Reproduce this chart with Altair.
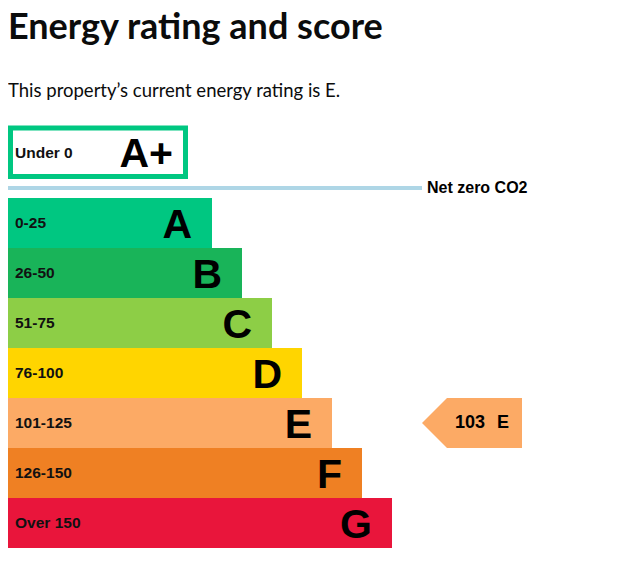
import altair as alt
import pandas as pd

# ---- data ----
bands = ["A", "B", "C", "D", "E", "F", "G"]
score_ranges = ["0-25", "26-50", "51-75", "76-100", "101-125", "126-150", "Over 150"]
band_colors = ["#00c781", "#19b459", "#8dce46", "#ffd500", "#fcaa65", "#ef8023", "#e9153b"]
top_band = "A+"
top_range = "Under 0"
current_score = 103
current_band = "E"
title_text = "Energy rating and score"
subtitle_text = "This property\u2019s current energy rating is E."
net_zero_label = "Net zero CO2"

# ---- layout (pixels in plot coordinates) ----
W, H = 600, 545
BAR_TOP, BAR_H = 190, 50
BAR_X0, BAR_END0, BAR_STEP = -1, 204, 30
LETTER_GAP = 20
LABEL_X = 7

xs = alt.Scale(domain=[0, W], nice=False, zero=False)
ys = alt.Scale(domain=[0, H], nice=False, zero=False, reverse=True)
color_scale = alt.Scale(domain=bands, range=band_colors)

bars_df = pd.DataFrame({"band": bands, "range": score_ranges})
bars_df["i"] = range(len(bands))
bars_df["top"] = BAR_TOP + BAR_H * bars_df["i"]
bars_df["bottom"] = bars_df["top"] + BAR_H
bars_df["mid"] = bars_df["top"] + BAR_H / 2
bars_df["x0"] = BAR_X0
bars_df["x1"] = BAR_END0 + BAR_STEP * bars_df["i"]
bars_df["letter_x"] = bars_df["x1"] - LETTER_GAP
bars_df["letter_y"] = bars_df["mid"] + 15
bars_df["label_x"] = LABEL_X

bars = alt.Chart(bars_df).mark_rect().encode(
    x=alt.X("x0:Q", scale=xs, axis=None),
    x2="x1:Q",
    y=alt.Y("top:Q", scale=ys, axis=None),
    y2="bottom:Q",
    color=alt.Color("band:N", scale=color_scale, legend=None),
)

range_labels = alt.Chart(bars_df).mark_text(
    align="left", baseline="middle", font="Liberation Sans", fontWeight="bold",
    fontSize=15.5, color="#111111"
).encode(
    x=alt.X("label_x:Q", scale=xs, axis=None),
    y=alt.Y("mid:Q", scale=ys, axis=None),
    text="range:N",
)

letters = alt.Chart(bars_df).mark_text(
    align="right", baseline="alphabetic", font="Liberation Sans", fontWeight="bold",
    fontSize=41, color="#000000"
).encode(
    x=alt.X("letter_x:Q", scale=xs, axis=None),
    y=alt.Y("letter_y:Q", scale=ys, axis=None),
    text="band:N",
)

# ---- A+ box ----
top_df = pd.DataFrame({"band": [top_band], "range": [top_range],
                       "x0": [2.5], "x1": [177.5], "y0": [120], "y1": [168.5],
                       "lx": [LABEL_X], "ly": [144.5], "bx": [165], "by": [159]})
top_box = alt.Chart(top_df).mark_rect(fill="white", stroke="#00c781", strokeWidth=5).encode(
    x=alt.X("x0:Q", scale=xs, axis=None), x2="x1:Q",
    y=alt.Y("y0:Q", scale=ys, axis=None), y2="y1:Q",
)
top_label = alt.Chart(top_df).mark_text(
    align="left", baseline="middle", font="Liberation Sans", fontWeight="bold",
    fontSize=15.5, color="#111111"
).encode(x=alt.X("lx:Q", scale=xs, axis=None), y=alt.Y("ly:Q", scale=ys, axis=None), text="range:N")
top_letter = alt.Chart(top_df).mark_text(
    align="right", baseline="alphabetic", font="Liberation Sans", fontWeight="bold",
    fontSize=41, color="#000000"
).encode(x=alt.X("bx:Q", scale=xs, axis=None), y=alt.Y("by:Q", scale=ys, axis=None), text="band:N")

# ---- net zero line ----
nz_df = pd.DataFrame({"x0": [-1], "x1": [414], "y": [180], "tx": [419], "label": [net_zero_label]})
nz_line = alt.Chart(nz_df).mark_rule(color="#aed6e6", strokeWidth=4).encode(
    x=alt.X("x0:Q", scale=xs, axis=None), x2="x1:Q", y=alt.Y("y:Q", scale=ys, axis=None)
)
nz_text = alt.Chart(nz_df).mark_text(
    align="left", baseline="middle", font="Liberation Sans", fontWeight="bold",
    fontSize=16, color="#000000"
).encode(x=alt.X("tx:Q", scale=xs, axis=None), y=alt.Y("y:Q", scale=ys, axis=None), text="label:N")

# ---- current rating arrow ----
ci = bands.index(current_band)
a_top = BAR_TOP + BAR_H * ci
a_mid = a_top + BAR_H / 2
a_bot = a_top + BAR_H
arrow_df = pd.DataFrame({
    "x": [414, 439, 514],
    "y": [a_mid, a_top, a_top],
    "y2": [a_mid, a_bot, a_bot],
    "band": [current_band] * 3,
})
arrow = alt.Chart(arrow_df).mark_area(orient="vertical", opacity=1).encode(
    x=alt.X("x:Q", scale=xs, axis=None),
    y=alt.Y("y:Q", scale=ys, axis=None),
    y2="y2:Q",
    color=alt.Color("band:N", scale=color_scale, legend=None),
)
arrow_txt_df = pd.DataFrame({"x": [447, 489], "y": [a_mid, a_mid],
                             "label": [str(current_score), current_band]})
arrow_text = alt.Chart(arrow_txt_df).mark_text(
    align="left", baseline="middle", font="Liberation Sans", fontWeight="bold",
    fontSize=18, color="#000000"
).encode(x=alt.X("x:Q", scale=xs, axis=None), y=alt.Y("y:Q", scale=ys, axis=None), text="label:N")

# ---- headings ----
head_df = pd.DataFrame({"x": [0, 0], "y": [31, 89], "label": [title_text, subtitle_text],
                        "kind": ["title", "subtitle"]})
title_mark = alt.Chart(head_df).transform_filter(alt.datum.kind == "title").mark_text(
    align="left", baseline="alphabetic", font="Lato", fontWeight="bold",
    fontSize=36, color="#0b0c0c"
).encode(x=alt.X("x:Q", scale=xs, axis=None), y=alt.Y("y:Q", scale=ys, axis=None), text="label:N")
subtitle_mark = alt.Chart(head_df).transform_filter(alt.datum.kind == "subtitle").mark_text(
    align="left", baseline="alphabetic", font="Lato", fontWeight="normal",
    fontSize=18.5, color="#0b0c0c"
).encode(x=alt.X("x:Q", scale=xs, axis=None), y=alt.Y("y:Q", scale=ys, axis=None), text="label:N")

chart = alt.layer(
    title_mark, subtitle_mark, top_box, top_label, top_letter, nz_line, nz_text,
    bars, range_labels, letters, arrow, arrow_text
).properties(
    width=W, height=H, padding=0, autosize=alt.AutoSizeParams(type="none")
).configure_view(stroke=None)

chart.save("out.html", embed_options={"renderer": "svg", "actions": False})
